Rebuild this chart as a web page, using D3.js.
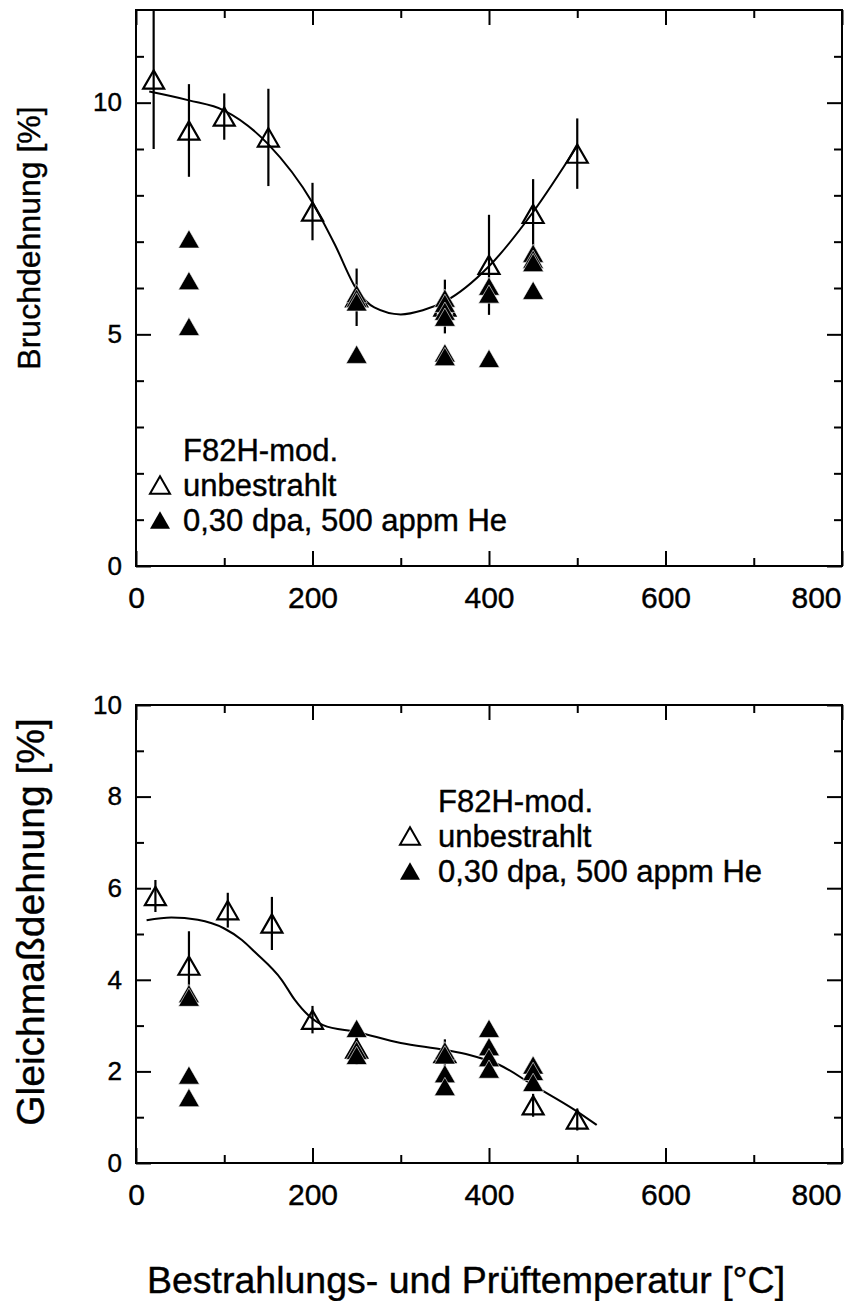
<!DOCTYPE html>
<html>
<head>
<meta charset="utf-8">
<script src="https://cdn.jsdelivr.net/npm/d3@7"></script>
<style>
  body { margin: 0; background: #fff; }
  text { font-family: "Liberation Sans", Arial, sans-serif; fill: #000; stroke: #000; stroke-width: 0.4px; }
</style>
</head>
<body>
<div id="container"></div>
<script>
// x axis, shared by both panels
const xMajor = [0, 200, 400, 600, 800];
const xMinor = [100, 300, 500, 700];

// top panel: Bruchdehnung
const topOpenT = [20, 60, 100, 150, 200, 250, 350, 400, 450, 500];
const topOpenV = [10.5, 9.4, 9.7, 9.25, 7.65, 5.8, 5.6, 6.5, 7.6, 8.9];
const topOpenErr = [1.5, 1.0, 0.5, 1.05, 0.62, 0.62, 0.58, 1.08, 0.75, 0.76];
const topFilledT = [60, 60, 60, 250, 250, 250, 250, 350, 350, 350, 350, 350, 350, 400, 400, 400, 450, 450, 450, 450];
const topFilledV = [7.06, 6.16, 5.17, 5.88, 5.78, 5.7, 4.57, 5.78, 5.67, 5.5, 5.37, 4.6, 4.52, 6.04, 5.87, 4.48, 6.75, 6.62, 6.55, 5.95];
const topCurveT = [15, 60, 100, 150, 200, 225, 250, 270, 300, 325, 350, 400, 450, 500];
const topCurveV = [10.24, 10.05, 9.83, 9.1, 7.84, 6.95, 5.97, 5.58, 5.43, 5.52, 5.71, 6.47, 7.64, 9.07];
const topYMajor = [0, 5, 10];
const topYMinor = [1, 2, 3, 4, 6, 7, 8, 9, 11];

// bottom panel: Gleichmaßdehnung
const botOpenT = [22, 60, 104, 154, 200, 250, 350, 450, 500];
const botOpenV = [5.83, 4.31, 5.52, 5.23, 3.13, 2.5, 2.4, 1.26, 0.95];
const botOpenErr = [0.35, 0.75, 0.38, 0.58, 0.3, 0.35, 0.3, 0.25, 0.24];
const botFilledT = [60, 60, 60, 60, 250, 250, 250, 350, 350, 350, 350, 400, 400, 400, 400, 450, 450, 450];
const botFilledV = [3.7, 3.62, 1.92, 1.43, 2.94, 2.46, 2.35, 2.45, 2.36, 1.95, 1.67, 2.94, 2.54, 2.3, 2.05, 2.14, 2.0, 1.76];
const botCurveT = [12, 40, 70, 100, 120, 135, 165, 180, 195, 212, 250, 300, 350, 378, 412, 450, 497, 522];
const botCurveV = [5.3, 5.36, 5.31, 5.12, 4.87, 4.6, 4.0, 3.56, 3.23, 3.01, 2.86, 2.62, 2.47, 2.36, 2.14, 1.7, 1.16, 0.83];
const botYMajor = [0, 2, 4, 6, 8, 10];
const botYMinor = [1, 3, 5, 7, 9];

const legendTitle = "F82H-mod.";
const legendOpen = "unbestrahlt";
const legendFilled = "0,30 dpa, 500 appm He";

const svg = d3.select("#container")
  .append("svg")
  .attr("width", 849)
  .attr("height", 1301);

// triangle centred on its bounding box (like the plotting program did)
const tri = {
  draw(ctx, size) {
    const w = Math.sqrt(size);
    const h = w * 0.87;
    ctx.moveTo(0, -h / 2);
    ctx.lineTo(w / 2, h / 2);
    ctx.lineTo(-w / 2, h / 2);
    ctx.closePath();
  }
};
const markerPath = d3.symbol().type(tri).size(21 * 21)();
const legendPath = d3.symbol().type(tri).size(20 * 20)();

const x = d3.scaleLinear().domain([0, 800]).range([136, 842]);

function drawPanel(p) {
  const y = d3.scaleLinear().domain(p.yDomain).range([p.bottom, p.top]);
  const g = svg.append("g");

  const clipId = "clip" + p.id;
  svg.append("clipPath").attr("id", clipId)
    .append("rect")
    .attr("x", 136).attr("y", p.top)
    .attr("width", 706).attr("height", p.bottom - p.top);

  // axes, ticks pointing inwards
  const addAxis = (axis, tr) => {
    const a = g.append("g").attr("transform", tr).call(axis);
    a.select(".domain").remove();
    a.selectAll("line").attr("stroke", "#000").attr("stroke-width", 2);
    return a;
  };
  addAxis(d3.axisBottom(x).tickValues(xMajor).tickSizeInner(-15).tickSizeOuter(0).tickPadding(21), `translate(0,${p.bottom})`)
    .selectAll("text")
    .attr("font-size", 30)
    .attr("font-family", null)
    .attr("dx", d => d === 800 ? -26 : 0);
  addAxis(d3.axisBottom(x).tickValues(xMinor).tickSizeInner(-8).tickFormat(""), `translate(0,${p.bottom})`);
  addAxis(d3.axisTop(x).tickValues(xMajor).tickSizeInner(-15).tickFormat(""), `translate(0,${p.top})`);
  addAxis(d3.axisTop(x).tickValues(xMinor).tickSizeInner(-8).tickFormat(""), `translate(0,${p.top})`);
  addAxis(d3.axisLeft(y).tickValues(p.yMajor).tickSizeInner(-15).tickPadding(14), "translate(136,0)")
    .selectAll("text").attr("font-size", 26).attr("font-family", null);
  addAxis(d3.axisLeft(y).tickValues(p.yMinor).tickSizeInner(-8).tickFormat(""), "translate(136,0)");
  addAxis(d3.axisRight(y).tickValues(p.yMajor).tickSizeInner(-15).tickFormat(""), "translate(842,0)");
  addAxis(d3.axisRight(y).tickValues(p.yMinor).tickSizeInner(-8).tickFormat(""), "translate(842,0)");

  g.append("rect")
    .attr("x", 136).attr("y", p.top)
    .attr("width", 706).attr("height", p.bottom - p.top)
    .attr("fill", "none").attr("stroke", "#000").attr("stroke-width", 2);

  const plot = g.append("g").attr("clip-path", `url(#${clipId})`);

  // fit curve
  const line = d3.line()
    .x((d, i) => x(p.curveT[i]))
    .y(d => y(d))
    .curve(d3.curveMonotoneX);
  plot.append("path")
    .attr("d", line(p.curveV))
    .attr("fill", "none")
    .attr("stroke", "#000")
    .attr("stroke-width", 2);

  // error bars
  plot.selectAll(".err")
    .data(p.openV)
    .join("line")
    .attr("class", "err")
    .attr("x1", (d, i) => x(p.openT[i]))
    .attr("x2", (d, i) => x(p.openT[i]))
    .attr("y1", (d, i) => y(d + p.openErr[i]))
    .attr("y2", (d, i) => y(d - p.openErr[i]))
    .attr("stroke", "#000")
    .attr("stroke-width", 2.2);

  // unirradiated: open triangles
  plot.selectAll(".open")
    .data(p.openV)
    .join("path")
    .attr("class", "open")
    .attr("d", markerPath)
    .attr("transform", (d, i) => `translate(${x(p.openT[i])},${y(d)})`)
    .attr("fill", "none")
    .attr("stroke", "#000")
    .attr("stroke-width", 2.2);

  // irradiated: filled triangles
  plot.selectAll(".filled")
    .data(p.filledV)
    .join("path")
    .attr("class", "filled")
    .attr("d", markerPath)
    .attr("transform", (d, i) => `translate(${x(p.filledT[i])},${y(d)})`)
    .attr("fill", "#000")
    .attr("stroke", "#fff")
    .attr("stroke-width", 0.6);

  // legend
  const lg = g.append("g");
  lg.append("text").attr("x", p.legX).attr("y", p.legY).attr("font-size", 31).text(legendTitle);
  lg.append("text").attr("x", p.legX).attr("y", p.legY + 35).attr("font-size", 31).text(legendOpen);
  lg.append("text").attr("x", p.legX).attr("y", p.legY + 70).attr("font-size", 31).text(legendFilled);
  lg.append("path").attr("d", legendPath)
    .attr("transform", `translate(${p.symX},${p.legY + 35 - 11})`)
    .attr("fill", "none").attr("stroke", "#000").attr("stroke-width", 2);
  lg.append("path").attr("d", legendPath)
    .attr("transform", `translate(${p.symX},${p.legY + 70 - 11})`)
    .attr("fill", "#000");

  // y title
  g.append("text")
    .attr("transform", `translate(${p.titleX},${p.titleY}) rotate(-90)`)
    .attr("text-anchor", "middle")
    .attr("font-size", p.titleSize)
    .text(p.title);
}

drawPanel({
  id: "top", top: 10, bottom: 566, yDomain: [0, 12],
  yMajor: topYMajor, yMinor: topYMinor,
  openT: topOpenT, openV: topOpenV, openErr: topOpenErr,
  filledT: topFilledT, filledV: topFilledV,
  curveT: topCurveT, curveV: topCurveV,
  legX: 183, legY: 461, symX: 160,
  title: "Bruchdehnung [%]", titleX: 40, titleY: 238, titleSize: 32
});

drawPanel({
  id: "bot", top: 705, bottom: 1163, yDomain: [0, 10],
  yMajor: botYMajor, yMinor: botYMinor,
  openT: botOpenT, openV: botOpenV, openErr: botOpenErr,
  filledT: botFilledT, filledV: botFilledV,
  curveT: botCurveT, curveV: botCurveV,
  legX: 438, legY: 812, symX: 410,
  title: "Gleichmaßdehnung [%]", titleX: 44, titleY: 922, titleSize: 39
});

// shared x title
svg.append("text")
  .attr("x", 466)
  .attr("y", 1293)
  .attr("text-anchor", "middle")
  .attr("font-size", 37.5)
  .text("Bestrahlungs- und Prüftemperatur [°C]");
</script>
</body>
</html>
